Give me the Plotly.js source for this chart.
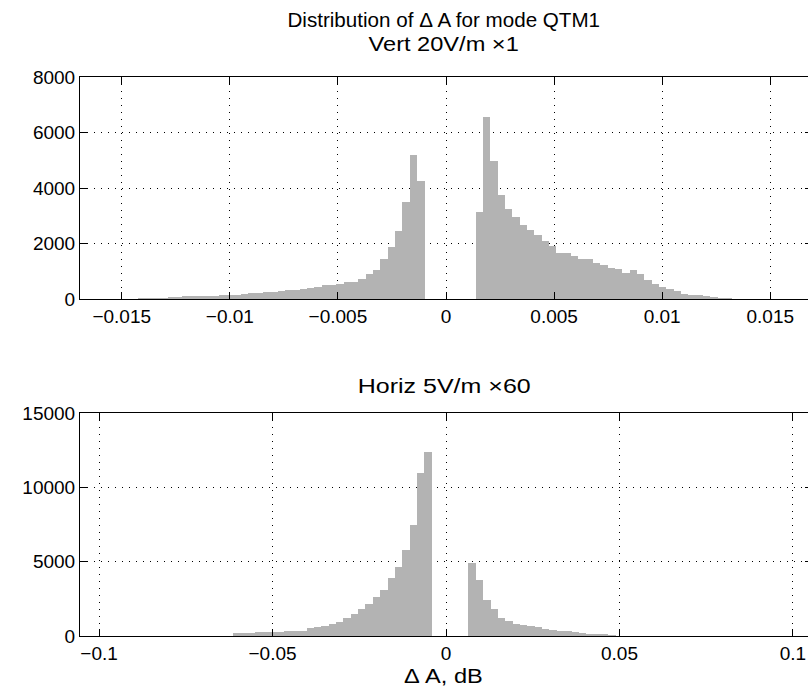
<!DOCTYPE html>
<html>
<head>
<meta charset="utf-8">
<script src="https://cdn.plot.ly/plotly-3.0.1.min.js"></script>
<style>html,body{margin:0;padding:0;background:#fff;overflow:hidden;}#chart{width:812px;height:687px;}</style>
</head>
<body>
<div id="chart"></div>
<script>
// ---- Data (histogram counts) ----
// Top panel: Vert 20V/m x1
const topBinWidth = 0.0003394;
const topNegStart = -0.014231;   // left edge of first negative-side bin
const topNegCounts = [30,35,40,45,60,72,100,105,110,115,120,140,150,155,180,216,220,250,255,288,324,330,360,396,432,505,505,541,613,613,721,901,1045,1441,1874,2450,3495,5189,4252];
const topPosStart = 0.00137;     // left edge of first positive-side bin
const topPosCounts = [3135,6559,4973,3748,3243,2955,2667,2486,2306,2090,1910,1658,1646,1550,1441,1441,1297,1225,1117,1093,937,1045,901,685,541,432,348,288,180,144,144,108,84,48,36];

// Bottom panel: Horiz 5V/m x60
const botBinWidth = 0.002122;
const botNegStart = -0.06142;
const botNegCounts = [190,195,200,255,260,265,270,330,335,340,538,605,673,807,942,1211,1480,1816,2152,2623,3094,3901,4641,5784,7466,10963,12376];
const botPosStart = 0.00648;
const botPosCounts = [4932,3767,2421,1816,1211,1009,807,717,673,605,471,404,336,320,269,202,135,135,135,80];

// Tick labels
const topXTicks = [-0.015,-0.01,-0.005,0,0.005,0.01,0.015];
const topXText = ["\u22120.015","\u22120.01","\u22120.005","0","0.005","0.01","0.015"];
const topYTicks = [0,2000,4000,6000,8000];
const topYText = ["0","2000","4000","6000","8000"];
const botXTicks = [-0.1,-0.05,0,0.05,0.1];
const botXText = ["\u22120.1","\u22120.05","0","0.05","0.1"];
const botYTicks = [0,5000,10000,15000];
const botYText = ["0","5000","10000","15000"];

const mainTitle = "Distribution of \u0394 A for mode QTM1";
const topTitle = "Vert 20V/m \u00d71";
const botTitle = "Horiz 5V/m \u00d760";
const xLabel = "\u0394 A, dB";

// ---- Build bar traces ----
function centers(start, w, n){ const c=[]; for(let i=0;i<n;i++) c.push(start + w*(i+0.5)); return c; }
const barColor = "rgb(179,179,179)";
function barTrace(start, w, counts, xa, ya){
  return {type:"bar", x:centers(start,w,counts.length), y:counts, width:w,
    marker:{color:barColor, line:{width:0}}, xaxis:xa, yaxis:ya, hoverinfo:"x+y", showlegend:false};
}
const traces = [
  barTrace(topNegStart, topBinWidth, topNegCounts, "x", "y"),
  barTrace(topPosStart, topBinWidth, topPosCounts, "x", "y"),
  barTrace(botNegStart, botBinWidth, botNegCounts, "x2", "y2"),
  barTrace(botPosStart, botBinWidth, botPosCounts, "x2", "y2")
];

const FAM = "Liberation Sans, Arial, Helvetica, sans-serif";
const tickFont = {family:FAM, size:19, color:"#000"};
const titleFont = {family:FAM, size:20, color:"#000"};
const axBase = {showline:true, linecolor:"#000", linewidth:1, mirror:"ticks", ticks:"inside", ticklen:7, tickcolor:"#000",
  showgrid:true, gridcolor:"#000", griddash:"1px,6px", gridwidth:1, zeroline:false, tickfont:tickFont, fixedrange:true};

const H = 687, T = 77, B = 51;
const plotH = H - T - B;
function py(px){ return (H - B - px) / plotH; }

const layout = {
  width:812, height:687,
  margin:{l:80, r:0, t:T, b:B},
  paper_bgcolor:"#fff", plot_bgcolor:"#fff",
  bargap:0, barmode:"overlay",
  font:tickFont,
  showlegend:false,
  xaxis: Object.assign({}, axBase, {domain:[0,1], anchor:"y", range:[-0.01693,0.01693], tickvals:topXTicks, ticktext:topXText}),
  yaxis: Object.assign({}, axBase, {domain:[py(299),1], anchor:"x", range:[0,8000], tickvals:topYTicks, ticktext:topYText}),
  xaxis2: Object.assign({}, axBase, {domain:[0,1], anchor:"y2", range:[-0.1055,0.1055], tickvals:botXTicks, ticktext:botXText}),
  yaxis2: Object.assign({}, axBase, {domain:[0,py(413)], anchor:"x2", range:[0,15000], tickvals:botYTicks, ticktext:botYText}),
  annotations:[
    {text:mainTitle, xref:"paper", yref:"paper", x:(443.5-80)/732, y:py(20), xanchor:"center", yanchor:"middle", showarrow:false, font:titleFont},
    {text:topTitle, xref:"paper", yref:"paper", x:(443.5-80)/732, y:py(44), xanchor:"center", yanchor:"middle", showarrow:false, font:titleFont},
    {text:botTitle, xref:"paper", yref:"paper", x:(443.5-80)/732, y:py(386), xanchor:"center", yanchor:"middle", showarrow:false, font:titleFont},
    {text:xLabel, xref:"paper", yref:"paper", x:(443.5-80)/732, y:py(676), xanchor:"center", yanchor:"middle", showarrow:false, font:titleFont}
  ]
};

// horizontal widening of the TeX-rendered labels in the reference
const stretch = {};
stretch[mainTitle] = 1.03; stretch[topTitle] = 1.18; stretch[botTitle] = 1.25; stretch[xLabel] = 1.18;

Plotly.newPlot("chart", traces, layout, {staticPlot:true, displayModeBar:false}).then(function(gd){
  gd.querySelectorAll("text.annotation-text").forEach(function(t){
    const f = stretch[t.textContent];
    if (f) {
      const L = t.getComputedTextLength();
      t.setAttribute("textLength", (L*f).toFixed(1));
      t.setAttribute("lengthAdjust", "spacingAndGlyphs");
    }
  });
});
</script>
</body>
</html>
